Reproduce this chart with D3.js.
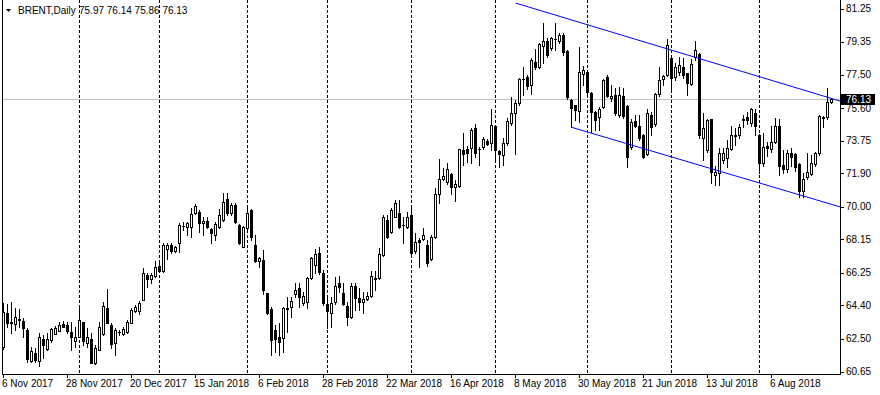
<!DOCTYPE html>
<html><head><meta charset="utf-8">
<script src="https://cdn.jsdelivr.net/npm/d3@7"></script>
<style>
html,body{margin:0;padding:0;background:#fff;overflow:hidden}
svg{display:block}
text{font-family:"Liberation Sans",Arial,sans-serif;font-size:10px;fill:#000}
</style>
</head><body><svg id="c" width="880" height="395"></svg>
<script>
const symbolTitle = "BRENT,Daily";
const opens = [
62.06,63.95,63.48,63.32,63.62,63.51,63.00,61.26,61.68,61.24,
62.47,61.90,62.43,62.78,62.96,63.34,63.29,62.89,62.40,62.62,
63.44,62.28,62.49,61.15,61.87,62.76,64.27,63.29,62.28,62.87,
62.78,62.91,63.42,64.10,64.08,64.71,66.13,65.88,66.07,66.64,
66.37,67.58,67.83,67.51,67.92,68.90,68.83,68.87,69.63,69.72,
69.06,69.21,68.72,68.40,68.87,69.25,70.44,69.63,70.10,68.96,
67.73,68.77,69.82,67.83,66.94,67.00,65.08,64.18,63.00,62.59,
62.53,64.20,64.29,65.03,65.37,64.52,64.61,65.94,66.70,67.39,
66.22,64.48,63.95,64.61,65.65,65.09,64.37,63.76,65.50,64.80,
64.61,64.76,64.93,65.97,65.94,67.26,69.25,68.59,69.44,69.63,
68.96,68.87,69.53,67.51,68.11,68.15,67.83,67.02,68.26,70.70,
71.59,71.42,71.86,71.10,71.20,73.22,73.26,73.31,74.45,73.28,
73.41,73.75,73.60,74.58,73.18,72.94,73.64,74.73,75.34,75.90,
77.25,77.34,76.91,78.23,77.95,79.12,79.42,78.99,79.50,79.42,
79.75,78.86,76.06,75.77,75.45,77.53,77.67,76.47,75.40,75.11,
75.64,77.34,76.15,76.34,75.20,76.28,75.72,73.40,74.85,74.58,
74.07,73.00,75.20,74.69,76.40,77.23,77.48,78.42,77.34,77.67,
77.91,77.57,76.97,78.48,78.67,73.88,73.22,74.96,71.80,71.90,
72.65,72.75,73.26,74.00,74.07,74.98,75.11,74.73,75.34,74.07,
72.46,73.45,73.26,73.69,74.58,72.37,72.12,73.03,72.97,72.42,
70.91,71.70,71.86,72.42,73.03,75.11,75.11,75.97];
const highs = [
64.52,64.48,64.57,64.23,64.18,63.70,63.10,62.06,61.96,62.81,
62.72,62.81,63.13,63.23,63.48,63.53,63.48,63.48,63.19,64.23,
63.48,63.10,62.81,62.15,63.48,64.61,65.31,63.38,63.10,63.00,
63.19,63.57,64.23,64.42,64.67,66.50,66.26,66.22,66.92,66.88,
67.92,67.92,67.92,67.77,69.06,69.15,69.15,69.91,70.16,69.82,
69.40,69.40,68.77,69.15,69.85,70.80,70.80,70.19,70.19,69.00,
68.90,70.00,69.85,68.40,67.17,67.54,65.10,64.30,63.29,63.38,
64.33,64.90,64.90,65.65,65.65,65.18,66.00,67.17,67.60,67.70,
66.40,64.99,64.90,66.03,66.07,65.65,64.61,65.65,65.69,65.37,
65.18,65.18,66.37,66.37,67.64,69.53,69.53,69.91,70.38,70.38,
69.40,69.72,70.10,68.49,68.20,68.77,68.11,68.40,71.04,72.69,
72.18,72.50,71.90,71.52,73.30,74.20,73.45,74.45,74.69,73.41,
73.94,73.83,75.53,74.60,73.22,73.88,75.02,76.21,76.06,77.29,
77.95,77.47,78.42,78.93,79.27,80.45,79.56,79.65,80.45,79.84,
79.84,78.90,76.10,75.80,79.08,78.00,77.72,76.50,75.45,75.64,
77.23,77.48,76.91,76.72,76.81,76.72,75.80,75.00,75.20,75.20,
74.13,75.53,75.40,76.45,77.95,77.48,79.50,78.61,78.14,78.52,
78.42,77.60,78.36,79.42,78.70,75.30,75.00,75.00,72.30,73.31,
73.31,73.79,74.58,74.45,74.70,75.20,75.40,75.60,75.53,74.10,
74.17,73.70,74.58,75.02,75.00,73.22,73.22,73.31,73.03,72.50,
71.90,73.03,72.94,73.12,75.20,75.15,76.72,76.14];
const lows = [
61.95,63.19,62.85,63.00,63.19,62.62,61.20,61.20,61.20,60.96,
61.40,61.87,62.34,62.75,62.94,63.15,62.81,61.87,62.06,62.60,
62.15,62.06,61.11,61.10,61.85,62.72,63.38,61.96,61.58,62.72,
62.72,62.85,63.38,64.00,63.90,64.70,65.46,65.65,66.00,66.30,
66.30,67.03,67.40,67.45,67.45,68.68,68.40,68.30,69.60,68.59,
68.40,68.80,67.96,68.11,68.80,69.20,69.55,69.55,69.10,67.90,
67.70,68.70,68.11,66.88,66.60,65.03,63.90,61.58,61.77,61.58,
61.77,62.91,63.76,64.90,64.33,64.40,64.23,65.90,66.25,66.20,
64.42,63.10,63.19,64.50,65.18,64.40,63.29,63.70,64.14,64.14,
63.95,64.70,64.85,65.27,65.90,67.20,68.20,68.50,69.40,68.80,
67.92,68.80,67.30,67.40,66.56,68.10,66.64,66.95,68.20,70.19,
71.50,71.30,70.72,70.34,71.10,72.37,72.56,72.46,72.84,72.37,
73.30,73.50,73.22,72.65,72.27,72.37,73.50,74.65,72.99,75.80,
76.34,76.70,76.40,77.80,77.90,78.14,78.50,78.90,78.90,79.30,
78.61,76.10,74.51,74.92,74.83,76.90,76.34,74.26,74.35,74.35,
75.60,76.20,76.00,75.20,75.10,75.05,72.27,73.30,74.50,73.80,
72.75,72.95,74.07,74.60,76.30,76.90,77.40,76.62,77.20,77.50,
77.30,76.34,76.90,78.30,73.90,72.65,73.10,71.33,71.23,71.23,
72.50,72.27,73.20,73.50,73.90,74.50,74.70,74.60,74.07,71.90,
72.30,72.90,73.10,73.60,71.80,71.90,71.95,72.30,72.00,70.57,
70.57,71.60,71.80,72.30,72.95,74.54,75.00,75.86];
const closes = [
64.00,63.42,63.38,63.72,63.60,63.10,61.34,61.81,61.30,62.59,
62.15,62.47,63.04,63.13,63.29,63.19,62.96,62.62,62.62,63.57,
62.38,62.59,61.15,61.96,63.19,64.36,63.42,62.19,63.00,62.89,
63.04,63.48,64.14,64.29,64.52,66.22,65.88,66.13,66.56,66.37,
67.83,67.83,67.51,67.70,68.96,68.92,69.06,69.57,70.04,69.06,
69.21,68.83,68.49,69.02,69.53,70.29,69.63,70.10,69.15,67.96,
68.87,69.66,68.30,66.90,67.10,65.27,63.99,62.44,62.47,62.34,
64.25,64.23,64.65,65.27,64.90,64.93,65.94,67.07,67.33,66.31,
64.52,64.10,64.52,65.50,65.46,64.48,63.72,65.50,64.80,64.61,
64.76,64.93,66.07,65.88,67.32,69.44,68.30,69.82,70.19,68.87,
68.94,69.40,67.39,68.02,68.02,68.40,66.83,68.30,70.70,71.57,
71.74,72.12,71.10,71.29,73.26,72.99,73.07,74.35,73.03,73.26,
73.83,73.56,74.64,73.22,72.99,73.60,74.88,75.34,75.90,77.23,
77.27,76.85,78.33,77.91,79.23,79.42,78.61,79.56,79.52,79.75,
78.80,76.21,75.58,75.49,77.67,77.76,76.53,75.40,74.92,75.53,
77.19,76.28,76.28,75.34,76.34,75.15,72.84,74.80,74.60,73.88,
72.80,75.30,74.50,76.40,77.19,77.42,79.18,77.29,77.95,78.04,
77.48,77.00,78.10,78.89,74.07,74.45,74.92,71.99,71.99,73.03,
73.03,73.31,74.07,74.07,74.50,74.92,74.92,75.53,74.60,72.46,
73.41,73.31,73.69,74.58,72.31,72.12,73.07,72.84,72.27,70.91,
71.55,71.99,72.46,73.03,75.17,75.02,75.96,76.13];
const labelIdx = [0,16,32,48,64,80,96,112,128,144,160,176,192];
const dateLabels = ["6 Nov 2017","28 Nov 2017","20 Dec 2017","15 Jan 2018","6 Feb 2018","28 Feb 2018","22 Mar 2018","16 Apr 2018","8 May 2018","30 May 2018","21 Jun 2018","13 Jul 2018","6 Aug 2018"];
const monthStarts = [19,39,61,81,102,123,146,167,189];
const priceTicks = [81.25,79.35,77.50,75.60,73.75,71.90,70.00,68.15,66.25,64.40,62.50,60.65];
const channelUpper = [[128,81.56],[190,77.31]];
const channelLower = [[142,74.51],[190,71.28]];

const svg = d3.select("#c");
const L = 2, R = 840, T = 0, B = 374;
const n = closes.length;
const x = d3.scaleLinear().domain([0, 209.125]).range([3.5, 840]);
const y = d3.scaleLinear().domain([60.65, 81.25]).range([371.5, 8.5]);
const ry = v => Math.round(y(v)) + 0.5;

svg.append("rect").attr("width",880).attr("height",395).attr("fill","#fff");
svg.append("defs").append("clipPath").attr("id","plot")
  .append("rect").attr("x",L).attr("y",T).attr("width",R-L).attr("height",B-T);

// month separators
svg.append("g").attr("shape-rendering","crispEdges").selectAll("line").data(monthStarts).join("line")
  .attr("x1",d=>x(d)).attr("x2",d=>x(d)).attr("y1",T).attr("y2",B)
  .attr("stroke","#000").attr("stroke-dasharray","3,2");

// bid line
const last = n-1;
svg.append("line").attr("x1",L).attr("x2",R).attr("y1",ry(closes[last])).attr("y2",ry(closes[last]))
  .attr("stroke","#c0c0c0").attr("shape-rendering","crispEdges");

// candles
const g = svg.append("g").attr("shape-rendering","crispEdges").attr("clip-path","url(#plot)");
const idx = d3.range(n);
g.selectAll("line.w").data(idx).join("line").attr("class","w")
  .attr("x1",i=>x(i)).attr("x2",i=>x(i))
  .attr("y1",i=>Math.round(y(highs[i]))).attr("y2",i=>Math.round(y(lows[i]))+1)
  .attr("stroke","#000");
idx.forEach(i=>{
  const top = ry(Math.max(opens[i],closes[i])), bot = ry(Math.min(opens[i],closes[i]));
  const bull = closes[i] >= opens[i];
  if (bot - top < 1) {
    g.append("line").attr("x1",x(i)-1.5).attr("x2",x(i)+1.5).attr("y1",top).attr("y2",top).attr("stroke","#000");
  } else {
    g.append("rect").attr("x",x(i)-1).attr("y",top).attr("width",2).attr("height",bot-top)
      .attr("fill",bull?"#fff":"#000").attr("stroke","#000");
  }
});

// trend lines (rays to the right edge)
const iEnd = x.invert(R);
[channelUpper, channelLower].forEach(pts=>{
  const [a,b] = pts;
  const slope = (b[1]-a[1])/(b[0]-a[0]);
  svg.append("line").attr("clip-path","url(#plot)")
    .attr("x1",x(a[0])).attr("y1",y(a[1]))
    .attr("x2",x(iEnd)).attr("y2",y(a[1]+slope*(iEnd-a[0])))
    .attr("stroke","#0000ff").attr("stroke-width",1);
});

// frame / axes
const ax = svg.append("g").attr("shape-rendering","crispEdges");
ax.append("line").attr("x1",L+0.5).attr("x2",L+0.5).attr("y1",T).attr("y2",B+0.5).attr("stroke","#000");
ax.append("line").attr("x1",R+0.5).attr("x2",R+0.5).attr("y1",T).attr("y2",B+0.5).attr("stroke","#000");
ax.append("line").attr("x1",L).attr("x2",R+1).attr("y1",B+0.5).attr("y2",B+0.5).attr("stroke","#000");

// price axis
ax.selectAll("line.pt").data(priceTicks).join("line").attr("class","pt")
  .attr("x1",R).attr("x2",R+4).attr("y1",d=>ry(d)).attr("y2",d=>ry(d)).attr("stroke","#000");
svg.selectAll("text.pl").data(priceTicks).join("text").attr("class","pl")
  .attr("x",R+6).attr("y",d=>y(d)).attr("dy","0.35em").text(d=>d.toFixed(2));

// bid label
const by = ry(closes[last]);
svg.append("rect").attr("x",R+1).attr("y",by-5.5).attr("width",34).attr("height",11).attr("fill","#000");
svg.append("text").attr("x",R+6).attr("y",by).attr("dy","0.35em").style("fill","#fff").text(closes[last].toFixed(2));

// date axis
ax.selectAll("line.dt").data(labelIdx).join("line").attr("class","dt")
  .attr("x1",d=>x(d)).attr("x2",d=>x(d)).attr("y1",B).attr("y2",B+4).attr("stroke","#000");
svg.selectAll("text.dl").data(labelIdx).join("text").attr("class","dl")
  .attr("x",d=>x(d)-1.5).attr("y",387).text((d,k)=>dateLabels[k]);

// title
svg.append("path").attr("d","M6,9L11,9L8.5,12Z").attr("fill","#000");
svg.append("text").attr("x",18).attr("y",14).text(symbolTitle);
svg.append("text").attr("x",79).attr("y",14)
  .text([opens[last],highs[last],lows[last],closes[last]].map(v=>v.toFixed(2)).join(" "));
</script>
</body></html>
